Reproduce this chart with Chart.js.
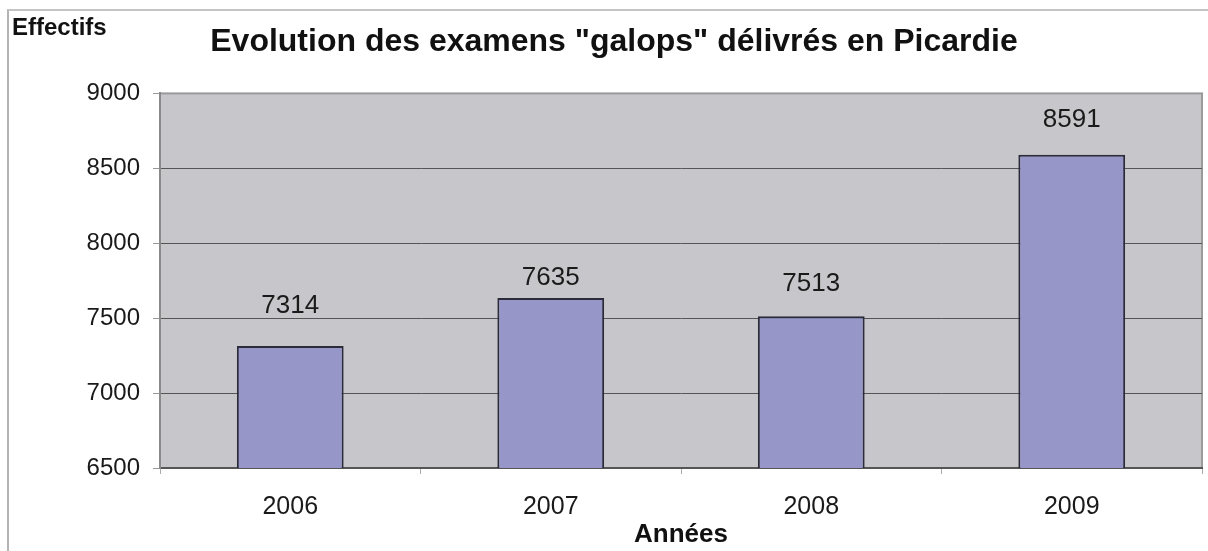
<!DOCTYPE html>
<html>
<head>
<meta charset="utf-8">
<script src="https://cdn.jsdelivr.net/npm/chart.js@4.4.0/dist/chart.umd.min.js"></script>
<style>
  html, body { margin: 0; padding: 0; background: #fff; }
  .wrap { position: relative; width: 1208px; height: 551px; }
  .frame { position: absolute; left: 7px; top: 9px; right: 0; bottom: 0; border-left: 2px solid #b4b4b4; border-top: 2px solid #c4c4c4; }
  canvas { position: absolute; left: 0; top: 0; }
</style>
</head>
<body>
<div class="wrap">
  <div class="frame"></div>
  <canvas class="chart" width="1208" height="551"></canvas>
</div>
<script>
const annees = ['2006', '2007', '2008', '2009'];
const effectifs = [7314, 7635, 7513, 8591];
const yTicks = [6500, 7000, 7500, 8000, 8500, 9000];

const FONT = "'Liberation Sans', Arial, sans-serif";

// fond gris de la zone de tracé + libellé "Effectifs"
const fondPlugin = {
  id: 'fond',
  beforeDraw(chart) {
    const { ctx, chartArea: a } = chart;
    ctx.save();
    ctx.fillStyle = '#c7c7cb';
    ctx.fillRect(a.left, a.top, a.right - a.left, a.bottom - a.top);
    ctx.strokeStyle = '#9a9a9a';
    ctx.lineWidth = 2;
    ctx.strokeRect(a.left, a.top, a.right - a.left, a.bottom - a.top);
    ctx.fillStyle = '#111';
    ctx.font = "bold 24px " + FONT;
    ctx.textBaseline = 'middle';
    ctx.fillText('Effectifs', 12, 28);
    ctx.restore();
  }
};

// valeurs au-dessus des barres
const valeursPlugin = {
  id: 'valeurs',
  afterDatasetsDraw(chart, args, opts) {
    const { ctx } = chart;
    const meta = chart.getDatasetMeta(0);
    ctx.save();
    ctx.fillStyle = '#1a1a1a';
    ctx.font = "26px " + FONT;
    ctx.textAlign = 'center';
    ctx.textBaseline = 'middle';
    meta.data.forEach((bar, i) => {
      ctx.fillText(String(effectifs[i]), bar.x, bar.y - opts.ecarts[i]);
    });
    ctx.restore();
  }
};

const canvas = document.querySelector('.chart');

new Chart(canvas, {
  type: 'bar',
  data: {
    labels: annees,
    datasets: [{
      data: effectifs,
      backgroundColor: '#9696c8',
      borderColor: '#2b2b3c',
      borderWidth: 2,
      borderSkipped: false,
      categoryPercentage: 1,
      barPercentage: 0.41
    }]
  },
  options: {
    responsive: false,
    animation: false,
    layout: { padding: { left: 26, right: 6, top: 0, bottom: 0 } },
    plugins: {
      legend: { display: false },
      tooltip: { enabled: false },
      title: {
        display: true,
        text: 'Evolution des examens "galops" délivrés en Picardie',
        color: '#111',
        font: { family: FONT, size: 32, weight: 'bold' },
        padding: { top: 23, bottom: 32 }
      },
      valeurs: { ecarts: [40, 20, 32, 35] }
    },
    scales: {
      x: {
        grid: { offset: true, drawOnChartArea: false, tickLength: 6, color: '#aaa' },
        border: { color: '#555', width: 2 },
        ticks: { color: '#1a1a1a', padding: 18, font: { family: FONT, size: 25 } },
        title: {
          display: true,
          text: 'Années',
          color: '#111',
          font: { family: FONT, size: 26, weight: 'bold' },
          padding: { top: 0, bottom: 1 }
        },
        afterFit(scale) { scale.height = 83; }
      },
      y: {
        min: 6500,
        max: 9000,
        afterBuildTicks(scale) { scale.ticks = yTicks.map(v => ({ value: v })); },
        grid: {
          color: ctx => (ctx.tick && ctx.tick.value === 9000) ? '#9a9a9a' : '#555',
          lineWidth: 1,
          tickLength: 7,
          tickColor: '#999'
        },
        border: { color: '#8a8a8a', width: 2 },
        ticks: {
          color: '#1a1a1a',
          padding: 13,
          font: { family: FONT, size: 24 },
          callback: v => String(v)
        },
        afterFit(scale) { scale.width = 134; }
      }
    }
  },
  plugins: [fondPlugin, valeursPlugin]
});
</script>
</body>
</html>
